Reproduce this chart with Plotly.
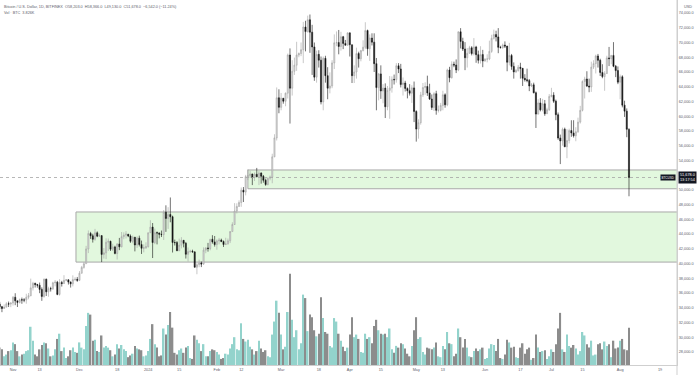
import plotly.graph_objects as go
import pandas as pd

# ---------------- data (daily BTCUSD, Bitfinex) ----------------
dates = pd.date_range("2023-10-26", "2024-08-05", freq="D")

opens = [
    34500, 34150, 33900, 34090, 34540, 34500,
    34650, 35420, 34940, 34730, 35080, 35050, 35050, 35420, 35640, 36700, 37320, 37140, 37060, 36490, 35540, 37880, 36160, 36590, 36580, 37390, 37470, 35810, 37420, 37290, 37720, 37800, 37480, 37250, 37830, 37860,
    37720, 38690, 39480, 39980, 41980, 44080, 43770, 43290, 44170, 43720, 43790, 41240, 41450, 42890, 43020, 41940, 42260, 41370, 42660, 42270, 43650, 43860, 43990, 43740, 43010, 43580, 42520, 43440, 42580, 42070, 42140,
    42280, 44180, 44950, 42850, 44180, 44160, 43970, 43930, 46970, 46120, 46660, 46350, 42850, 42840, 41730, 42500, 43150, 42740, 41260, 41620, 41670, 41580, 39500, 39850, 40080, 39930, 41820, 42120, 42030, 43300, 42940,
    42580, 43080, 43190, 43000, 42580, 42660, 43090, 44340, 45300, 47130, 47750, 48290, 49960, 49700, 51800, 51920, 52160, 51660, 52120, 51780, 52280, 51840, 51300, 50730, 51570, 51730, 54480, 57050, 62500,
    61200, 62440, 62030, 63130, 68300, 63800, 66100, 66930, 68300, 68500, 69020, 72100, 71480, 73080, 71400, 69400, 65300, 68390, 67600, 61940, 67850, 65500, 63800, 64100, 67230, 69960, 69990, 69460, 70780, 69870, 69630,
    71310, 69700, 65500, 66000, 68500, 67800, 68900, 69360, 71620, 69150, 70600, 70050, 67130, 63880, 65740, 63420, 63810, 61280, 63500, 63830, 64990, 64950, 66840, 66410, 64290, 64500, 63770, 63460, 63120, 63840,
    60640, 58250, 59120, 62890, 63890, 64030, 63160, 62330, 61190, 63050, 60790, 60800, 61460, 62900, 61550, 66270, 65230, 67050, 66940, 66280, 71450, 70140, 69120, 67930, 68530, 69280, 68500, 69390, 68350, 67580, 68360,
    67490, 67760, 67760, 68800, 70570, 71080, 70760, 69340, 69300, 69650, 69510, 67320, 68240, 66750, 66010, 66190, 66640, 66490, 65140, 64960, 64830, 64100, 64250, 63180, 60280, 61800, 60860, 61680, 60330, 60890,
    62680, 62850, 62030, 60200, 57040, 56640, 58230, 55850, 56700, 58050, 57720, 57340, 57890, 59200, 60790, 64720, 65040, 64090, 63970, 66660, 67140, 68170, 67580, 65930, 65370, 65790, 67910, 67810, 68250, 66780, 66190,
    64620, 65350, 61500, 60680, 58203,
]

highs = [
    34800, 34250, 34450, 34760, 34840, 34720,
    35580, 35970, 34950, 35250, 35380, 35300, 35900, 36000, 37950, 37520, 37400, 37240, 37420, 36770, 37960, 37950, 36850, 36850, 37530, 37760, 37650, 37880, 37650, 38420, 37900, 37830, 37580, 38400, 38150, 38180,
    38980, 39680, 40200, 42400, 44490, 44300, 44040, 44700, 44360, 44050, 43800, 42100, 43420, 43400, 43100, 42700, 42420, 42750, 43480, 44280, 44230, 44400, 44000, 43950, 43800, 43600, 43680, 43790, 43120, 42600, 42880,
    44200, 45880, 45500, 44750, 44350, 44200, 44480, 47250, 47900, 47650, 48970, 46500, 43250, 43050, 43380, 43580, 43200, 42930, 42180, 41870, 41880, 41680, 40130, 40530, 40280, 42200, 42200, 42800, 43300, 43850, 43740,
    43280, 43480, 43380, 43120, 43500, 43400, 44400, 45600, 48200, 48170, 48580, 50330, 50380, 52040, 52820, 52580, 52180, 52350, 52980, 52580, 52380, 52020, 51520, 51680, 51950, 54900, 57550, 63900, 63650,
    63150, 62450, 63200, 68500, 69200, 67600, 67950, 70100, 68650, 70000, 72800, 72950, 73650, 73800, 72400, 70000, 68900, 68950, 68100, 68100, 68200, 66650, 65950, 67600, 71100, 71500, 71700, 71450, 70900, 70350, 71350,
    71330, 69700, 66900, 69300, 68750, 69000, 70300, 72750, 71750, 71100, 71250, 71250, 67900, 65850, 66900, 64350, 64450, 64100, 65450, 65400, 65650, 67200, 67200, 67100, 65250, 64800, 63900, 64350, 64200, 64700,
    60800, 59580, 63300, 64500, 64600, 65500, 64400, 62950, 63250, 63450, 61450, 61800, 63450, 63100, 66450, 66700, 67450, 67400, 67700, 71500, 71950, 70650, 70050, 69250, 69550, 69500, 70600, 69550, 68900, 69500, 69000,
    67850, 68400, 70250, 71050, 71750, 71600, 71950, 69550, 69850, 70150, 69550, 69950, 68450, 67300, 66400, 66950, 67250, 66550, 65700, 66450, 65050, 64500, 64550, 63350, 62300, 62450, 62350, 62200, 61150, 63000,
    63850, 63250, 62250, 60500, 57500, 58450, 58450, 58250, 58300, 59450, 59450, 58500, 59800, 61400, 64850, 65350, 66100, 65100, 67400, 67600, 68350, 68450, 67800, 67050, 66100, 68200, 69400, 68300, 70050, 66950, 66750,
    65650, 65550, 62100, 61050, 58366,
]

lows = [
    33800, 33400, 33850, 34050, 34100, 34080,
    34300, 34350, 34100, 34580, 34540, 34750, 34550, 35150, 35560, 36350, 36750, 36720, 35980, 34940, 35370, 35600, 35500, 36200, 36420, 36900, 35700, 35650, 36880, 37250, 37600, 37150, 36740, 36900, 37620, 37520,
    37620, 38650, 39300, 39980, 41420, 43350, 42850, 43100, 43580, 43600, 40200, 40680, 40600, 41700, 41700, 41700, 41250, 40550, 41820, 42200, 43300, 43400, 43580, 42800, 42750, 41650, 42120, 42320, 41300, 41520, 41980,
    42180, 44150, 40750, 42630, 42600, 43420, 43600, 43200, 44300, 44700, 45600, 41500, 42450, 41720, 41700, 42060, 42200, 40680, 40280, 41450, 41500, 39450, 38550, 39500, 39520, 39820, 41400, 41620, 41800, 42700, 42300,
    41880, 42600, 42900, 42250, 42550, 42580, 42780, 44330, 45250, 46800, 47700, 47700, 48350, 49250, 51330, 51600, 50650, 51200, 51720, 50650, 50850, 50980, 50550, 50600, 51300, 50900, 54450, 56700, 60400,
    60800, 61700, 61350, 62400, 59000, 62800, 65600, 66150, 68000, 68150, 67200, 68800, 71350, 68600, 65600, 64800, 64550, 66600, 61600, 60800, 64550, 62300, 63100, 63800, 66400, 69500, 68400, 68900, 69100, 69600, 69600,
    68100, 64500, 64500, 65100, 66600, 67450, 68800, 69100, 68200, 67500, 69600, 66000, 60800, 62150, 62350, 61750, 59750, 60800, 59650, 63200, 64300, 64550, 65850, 63900, 62800, 63350, 62420, 62800, 61800, 59200,
    56550, 56950, 58850, 62600, 62900, 62750, 62200, 60850, 60700, 60200, 60500, 60650, 60800, 61150, 61350, 64600, 65100, 66650, 65850, 66100, 69200, 68850, 66250, 66600, 68500, 68250, 68250, 67250, 67150, 67150, 66650,
    67400, 67300, 67600, 68600, 70400, 70150, 68550, 69200, 69150, 69250, 66100, 66900, 66300, 65100, 65850, 66050, 65100, 64100, 64700, 64600, 63400, 63950, 63100, 58400, 60250, 60650, 60650, 60050, 60300, 60700,
    62550, 61800, 59450, 56800, 53500, 56000, 55800, 54300, 56300, 57200, 57100, 56600, 57750, 59000, 60650, 62400, 63950, 63250, 63300, 66400, 65800, 66600, 65450, 65150, 63450, 65750, 66800, 67050, 66650, 65300, 64350,
    62300, 61200, 59900, 57150, 49130,
]

closes = [
    34150, 33900, 34090, 34540, 34500, 34650,
    35420, 34940, 34730, 35080, 35050, 35050, 35420, 35640, 36700, 37320, 37140, 37060, 36490, 35540, 37880, 36160, 36590, 36580, 37390, 37470, 35810, 37420, 37290, 37720, 37800, 37480, 37250, 37830, 37860, 37720,
    38690, 39480, 39980, 41980, 44080, 43770, 43290, 44170, 43720, 43790, 41240, 41450, 42890, 43020, 41940, 42260, 41370, 42660, 42270, 43650, 43860, 43990, 43740, 43010, 43580, 42520, 43440, 42580, 42070, 42140, 42280,
    44180, 44950, 42850, 44180, 44160, 43970, 43930, 46970, 46120, 46660, 46350, 42850, 42840, 41730, 42500, 43150, 42740, 41260, 41620, 41670, 41580, 39500, 39850, 40080, 39930, 41820, 42120, 42030, 43300, 42940, 42580,
    43080, 43190, 43000, 42580, 42660, 43090, 44340, 45300, 47130, 47750, 48290, 49960, 49700, 51800, 51920, 52160, 51660, 52120, 51780, 52280, 51840, 51300, 50730, 51570, 51730, 54480, 57050, 62500, 61200,
    62440, 62030, 63130, 68300, 63800, 66100, 66930, 68300, 68500, 69020, 72100, 71480, 73080, 71400, 69400, 65300, 68390, 67600, 61940, 67850, 65500, 63800, 64100, 67230, 69960, 69990, 69460, 70780, 69870, 69630, 71310,
    69700, 65500, 66000, 68500, 67800, 68900, 69360, 71620, 69150, 70600, 70050, 67130, 63880, 65740, 63420, 63810, 61280, 63500, 63830, 64990, 64950, 66840, 66410, 64290, 64500, 63770, 63460, 63120, 63840, 60640,
    58250, 59120, 62890, 63890, 64030, 63160, 62330, 61190, 63050, 60790, 60800, 61460, 62900, 61550, 66270, 65230, 67050, 66940, 66280, 71450, 70140, 69120, 67930, 68530, 69280, 68500, 69390, 68350, 67580, 68360, 67490,
    67760, 67760, 68800, 70570, 71080, 70760, 69340, 69300, 69650, 69510, 67320, 68240, 66750, 66010, 66190, 66640, 66490, 65140, 64960, 64830, 64100, 64250, 63180, 60280, 61800, 60860, 61680, 60330, 60890, 62680,
    62850, 62030, 60200, 57040, 56640, 58230, 55850, 56700, 58050, 57720, 57340, 57890, 59200, 60790, 64720, 65040, 64090, 63970, 66660, 67140, 68170, 67580, 65930, 65370, 65790, 67910, 67810, 68250, 66780, 66190, 64620,
    65350, 61500, 60680, 58220, 51678,
]

# volume, thousands of BTC
volumes = [
    2.0, 1.8, 1.0, 1.2, 1.6, 1.7,
    2.6, 2.4, 1.6, 1.0, 1.2, 1.3, 1.6, 1.7, 4.4, 2.8, 1.2, 1.0, 1.8, 2.3, 2.6, 2.5, 1.9, 1.0, 1.1, 1.8, 3.0, 3.6, 1.6, 2.0, 0.8, 1.0, 1.7, 2.0, 1.5, 1.4,
    2.6, 2.0, 1.8, 4.5, 6.0, 5.8, 2.8, 2.9, 1.6, 1.5, 3.4, 2.0, 2.2, 2.0, 1.7, 1.0, 1.2, 2.4, 1.9, 2.3, 1.8, 1.6, 0.9, 1.1, 1.3, 2.2, 1.9, 1.8, 1.7, 1.0, 1.1,
    1.6, 3.0, 4.7, 2.4, 2.0, 1.0, 1.1, 4.2, 3.5, 4.6, 6.1, 4.3, 1.4, 1.2, 1.7, 1.9, 1.4, 2.0, 2.2, 0.8, 0.7, 3.4, 2.9, 2.5, 1.6, 2.4, 1.0, 1.0, 1.6, 1.8, 1.7,
    1.5, 1.2, 0.7, 0.8, 1.3, 1.2, 1.9, 2.4, 3.2, 1.8, 1.7, 4.8, 3.0, 2.7, 2.9, 2.1, 1.8, 1.2, 1.6, 2.8, 1.9, 1.5, 1.7, 1.0, 0.9, 3.5, 5.0, 7.4, 6.0,
    3.5, 1.8, 2.1, 6.1, 10.5, 5.2, 3.2, 4.0, 1.8, 2.5, 8.1, 7.7, 3.9, 5.8, 5.5, 4.0, 3.3, 3.6, 7.8, 5.4, 3.8, 3.6, 2.2, 2.0, 5.4, 5.0, 3.6, 2.8, 2.1, 1.6, 2.0,
    3.5, 5.5, 3.2, 3.5, 3.0, 1.5, 1.4, 3.6, 3.0, 3.2, 2.5, 4.5, 5.2, 4.0, 3.6, 3.5, 3.6, 3.2, 4.2, 1.8, 1.4, 2.2, 2.0, 2.5, 2.4, 1.9, 1.3, 1.0, 2.2, 4.0,
    5.5, 3.0, 3.2, 1.5, 1.2, 2.0, 1.9, 1.8, 2.0, 2.6, 1.0, 0.9, 2.2, 1.8, 3.8, 2.5, 2.4, 1.0, 1.3, 4.2, 3.2, 2.0, 3.0, 2.0, 1.0, 0.9, 1.6, 1.9, 1.6, 1.8, 2.0,
    0.7, 0.8, 1.9, 2.4, 2.3, 1.6, 3.0, 0.8, 0.7, 1.2, 2.9, 2.6, 2.0, 2.1, 0.9, 0.8, 2.0, 2.5, 1.3, 1.8, 2.0, 0.6, 0.8, 3.5, 2.0, 1.5, 1.6, 1.7, 0.7, 1.0,
    1.8, 1.5, 2.4, 4.2, 6.0, 1.8, 1.5, 3.5, 2.2, 2.0, 2.3, 1.9, 1.2, 1.6, 3.8, 3.4, 2.4, 2.0, 2.8, 1.1, 1.2, 2.4, 2.5, 1.8, 2.7, 2.2, 2.4, 0.9, 2.8, 1.9, 2.0,
    2.8, 3.0, 1.8, 1.7, 4.3,
]

# time-axis tick labels
tick_dates = ["2023-11-01", "2023-11-13", "2023-12-01", "2023-12-18", "2024-01-01", "2024-01-15",
              "2024-02-01", "2024-02-12", "2024-03-01", "2024-03-18", "2024-04-01", "2024-04-15",
              "2024-05-01", "2024-05-13", "2024-06-01", "2024-06-17", "2024-07-01", "2024-07-15",
              "2024-08-01", "2024-08-19"]
tick_text = ["Nov", "13", "Dec", "18", "2024", "15", "Feb", "12", "Mar", "18", "Apr", "15",
             "May", "13", "Jun", "17", "Jul", "15", "Aug", "19"]

# price-axis tick labels
price_ticks = [28000, 30000, 32000, 34000, 36000, 38000, 40000, 42000, 44000, 46000, 48000,
               50000, 52000, 54000, 56000, 58000, 60000, 62000, 64000, 66000, 68000, 70000,
               72000, 74000]

# drawn zones (date from, price low, price high)
zone_lower = ("2023-11-29 10:00", 40200, 47000)
zone_upper = ("2024-02-15", 50150, 52700)
last_price = 51678

header = ("Bitcoin / U.S. Dollar, 1D, BITFINEX  O58,203.0  H58,366.0  L49,130.0  "
          "C51,678.0  \u22126,542.0 (\u221211.24%)")
vol_header = "Vol \u00b7 BTC  3.826K"

# ---------------- styling ----------------
UP_VOL = "#93d3cc"
DN_VOL = "#8c8c8c"
FONT = "Liberation Sans, Arial, sans-serif"
TXT = "#5d606b"
FS = 3.8

n = min(len(dates), len(opens), len(highs), len(lows), len(closes), len(volumes))
dates = dates[:n]
vol_colors = [UP_VOL if c >= o else DN_VOL for o, c in zip(opens[:n], closes[:n])]

fig = go.Figure()
fig.add_trace(go.Candlestick(
    x=dates, open=opens[:n], high=highs[:n], low=lows[:n], close=closes[:n],
    increasing=dict(line=dict(color="#a3a3a3", width=0.6), fillcolor="#dcdcdc"),
    decreasing=dict(line=dict(color="#141414", width=0.6), fillcolor="#141414"),
    whiskerwidth=0, showlegend=False, hoverinfo="skip", yaxis="y"))
fig.add_trace(go.Bar(
    x=dates, y=volumes[:n], marker=dict(color=vol_colors, line=dict(width=0)),
    showlegend=False, hoverinfo="skip", yaxis="y2"))

fig.update_layout(
    width=700, height=375,
    margin=dict(l=0, r=23, t=0, b=10),
    paper_bgcolor="white", plot_bgcolor="white",
    bargap=0.3,
    font=dict(family=FONT, size=FS, color=TXT),
    xaxis=dict(type="date", range=["2023-10-26 03:00", "2024-08-26 16:00"],
               tickvals=tick_dates, ticktext=tick_text, showgrid=False, zeroline=False,
               showline=True, linecolor="#cfcfcf", linewidth=1, ticks="",
               tickfont=dict(size=FS, color=TXT), rangeslider=dict(visible=False)),
    yaxis=dict(side="right", range=[26231, 75769], tickvals=price_ticks, tickformat=",.1f",
               showgrid=False, zeroline=False, showline=True, linecolor="#cfcfcf",
               linewidth=1, ticks="", tickfont=dict(size=FS, color=TXT), fixedrange=True),
    yaxis2=dict(overlaying="y", range=[0, 42], visible=False, fixedrange=True),
)

shapes = []
for (x0, lo, hi) in (zone_lower, zone_upper):
    shapes.append(dict(type="rect", xref="x", yref="y", x0=x0, x1="2024-10-01", y0=lo, y1=hi,
                       fillcolor="#e2f8de", line=dict(color="#a8a8a8", width=1), layer="below"))
shapes.append(dict(type="line", xref="paper", yref="y", x0=0, x1=1, y0=last_price, y1=last_price,
                   line=dict(color="#a5a5a5", width=0.8, dash="dot")))
# right scale divider extending through time axis
shapes.append(dict(type="line", xref="paper", yref="paper", x0=1, x1=1, y0=-0.03, y1=1,
                   line=dict(color="#cfcfcf", width=1)))
fig.update_layout(shapes=shapes)

annotations = [
    dict(xref="paper", yref="paper", x=0, y=1, xanchor="left", yanchor="top", xshift=2, yshift=-3,
         text=header, showarrow=False, font=dict(size=FS, color=TXT)),
    dict(xref="paper", yref="paper", x=0, y=1, xanchor="left", yanchor="top", xshift=2, yshift=-9,
         text=vol_header, showarrow=False, font=dict(size=FS, color=TXT)),
    dict(xref="paper", yref="paper", x=1, y=1, xanchor="center", yanchor="top", xshift=11, yshift=-3,
         text="USD", showarrow=False, font=dict(size=FS, color=TXT)),
    dict(xref="paper", yref="y", x=1, y=last_price, xanchor="left", yanchor="middle", xshift=1,
         text="51,678.0<br>13:17:54", showarrow=False, bgcolor="#131722", borderpad=1,
         font=dict(size=FS, color="white")),
    dict(xref="paper", yref="y", x=1, y=last_price, xanchor="right", yanchor="middle", xshift=-1,
         text="BTCUSD", showarrow=False, bgcolor="#131722", borderpad=0.5,
         font=dict(size=3, color="white")),
]
fig.update_layout(annotations=annotations)

fig.write_html("out.html")
